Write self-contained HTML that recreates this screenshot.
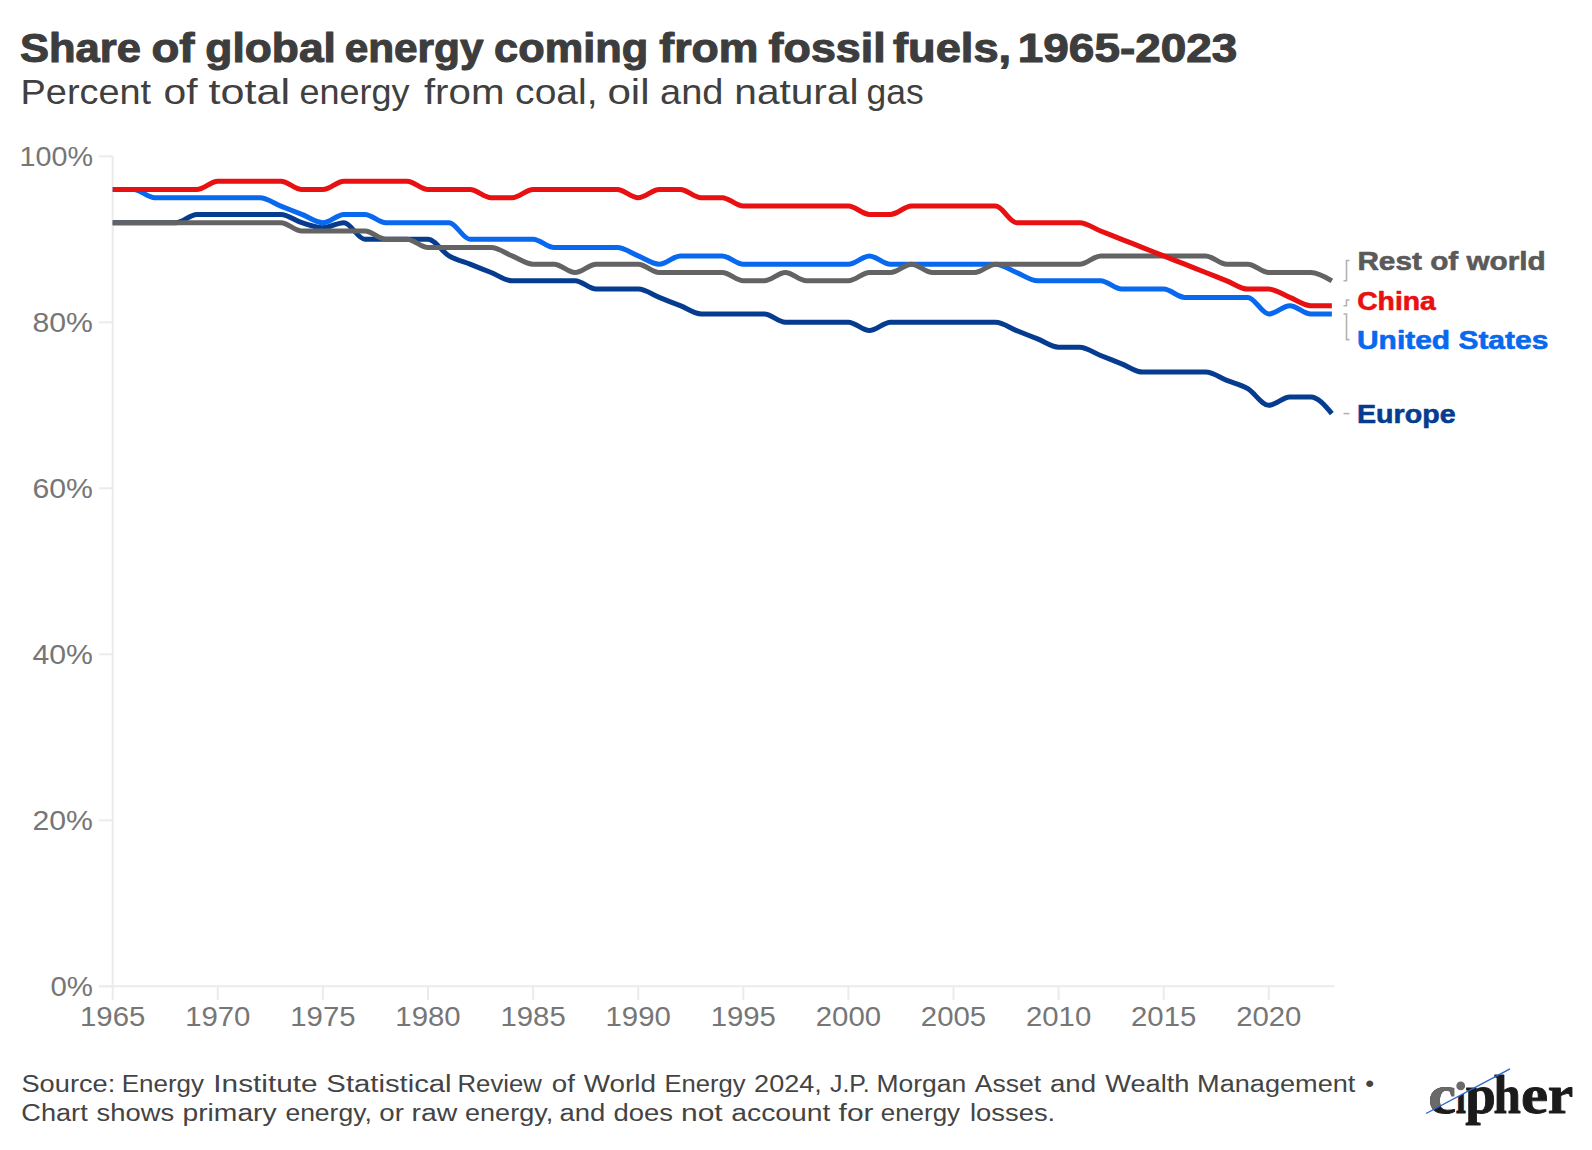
<!DOCTYPE html>
<html><head><meta charset="utf-8">
<style>
html,body{margin:0;padding:0;background:#fff;}
body{width:1592px;height:1150px;overflow:hidden;}
svg{display:block;}
text{font-family:"Liberation Sans",Arial,sans-serif;}
.t{font-weight:bold;font-size:41px;fill:#3d3d3d;stroke:#3d3d3d;stroke-width:1.1px;stroke-linejoin:round;}
.st{font-size:34.5px;fill:#404040;}
.yl{font-size:27.5px;fill:#767676;text-anchor:end;}
.xl{font-size:27.5px;fill:#767676;text-anchor:middle;}
.lab{font-size:26px;font-weight:bold;stroke-width:0.6px;stroke-linejoin:round;}
.ft{font-size:23.5px;fill:#444;}
.ln{fill:none;stroke-width:5.0px;stroke-linejoin:round;stroke-linecap:butt;}
.logo{font-family:"Liberation Serif",serif;font-weight:bold;font-size:55px;stroke-width:0.9px;stroke-linejoin:round;}
</style></head>
<body>
<svg width="1592" height="1150" viewBox="0 0 1592 1150">
<text class="t" x="20.05" y="62.0" textLength="120.84" lengthAdjust="spacingAndGlyphs">Share</text><text class="t" x="151.42" y="62.0" textLength="43.09" lengthAdjust="spacingAndGlyphs">of</text><text class="t" x="205.38" y="62.0" textLength="130.56" lengthAdjust="spacingAndGlyphs">global</text><text class="t" x="344.65" y="62.0" textLength="138.88" lengthAdjust="spacingAndGlyphs">energy</text><text class="t" x="494.11" y="62.0" textLength="154.09" lengthAdjust="spacingAndGlyphs">coming</text><text class="t" x="659.34" y="62.0" textLength="99.02" lengthAdjust="spacingAndGlyphs">from</text><text class="t" x="768.63" y="62.0" textLength="117.04" lengthAdjust="spacingAndGlyphs">fossil</text><text class="t" x="893.03" y="62.0" textLength="118.10" lengthAdjust="spacingAndGlyphs">fuels,</text><text class="t" x="1017.81" y="62.0" textLength="219.55" lengthAdjust="spacingAndGlyphs">1965-2023</text>
<text class="st" x="20.59" y="103.8" textLength="130.48" lengthAdjust="spacingAndGlyphs">Percent</text><text class="st" x="163.49" y="103.8" textLength="34.05" lengthAdjust="spacingAndGlyphs">of</text><text class="st" x="208.55" y="103.8" textLength="81.54" lengthAdjust="spacingAndGlyphs">total</text><text class="st" x="299.47" y="103.8" textLength="110.00" lengthAdjust="spacingAndGlyphs">energy</text><text class="st" x="423.93" y="103.8" textLength="80.52" lengthAdjust="spacingAndGlyphs">from</text><text class="st" x="515.14" y="103.8" textLength="82.47" lengthAdjust="spacingAndGlyphs">coal,</text><text class="st" x="607.43" y="103.8" textLength="42.19" lengthAdjust="spacingAndGlyphs">oil</text><text class="st" x="660.09" y="103.8" textLength="63.36" lengthAdjust="spacingAndGlyphs">and</text><text class="st" x="734.30" y="103.8" textLength="124.22" lengthAdjust="spacingAndGlyphs">natural</text><text class="st" x="866.51" y="103.8" textLength="57.17" lengthAdjust="spacingAndGlyphs">gas</text>
<line x1="112.7" y1="156.3" x2="112.7" y2="986.3" stroke="#ebebeb" stroke-width="2"/><line x1="99" y1="986.3" x2="112.7" y2="986.3" stroke="#ebebeb" stroke-width="2"/><line x1="99" y1="820.3" x2="112.7" y2="820.3" stroke="#ebebeb" stroke-width="2"/><line x1="99" y1="654.3" x2="112.7" y2="654.3" stroke="#ebebeb" stroke-width="2"/><line x1="99" y1="488.3" x2="112.7" y2="488.3" stroke="#ebebeb" stroke-width="2"/><line x1="99" y1="322.3" x2="112.7" y2="322.3" stroke="#ebebeb" stroke-width="2"/><line x1="99" y1="156.3" x2="112.7" y2="156.3" stroke="#ebebeb" stroke-width="2"/><line x1="99" y1="986.3" x2="1334.4" y2="986.3" stroke="#ebebeb" stroke-width="2"/><line x1="112.7" y1="986.3" x2="112.7" y2="1000" stroke="#ebebeb" stroke-width="2"/><line x1="217.8" y1="986.3" x2="217.8" y2="1000" stroke="#ebebeb" stroke-width="2"/><line x1="322.9" y1="986.3" x2="322.9" y2="1000" stroke="#ebebeb" stroke-width="2"/><line x1="428.0" y1="986.3" x2="428.0" y2="1000" stroke="#ebebeb" stroke-width="2"/><line x1="533.1" y1="986.3" x2="533.1" y2="1000" stroke="#ebebeb" stroke-width="2"/><line x1="638.2" y1="986.3" x2="638.2" y2="1000" stroke="#ebebeb" stroke-width="2"/><line x1="743.3" y1="986.3" x2="743.3" y2="1000" stroke="#ebebeb" stroke-width="2"/><line x1="848.4" y1="986.3" x2="848.4" y2="1000" stroke="#ebebeb" stroke-width="2"/><line x1="953.5" y1="986.3" x2="953.5" y2="1000" stroke="#ebebeb" stroke-width="2"/><line x1="1058.6" y1="986.3" x2="1058.6" y2="1000" stroke="#ebebeb" stroke-width="2"/><line x1="1163.7" y1="986.3" x2="1163.7" y2="1000" stroke="#ebebeb" stroke-width="2"/><line x1="1268.8" y1="986.3" x2="1268.8" y2="1000" stroke="#ebebeb" stroke-width="2"/>
<text class="yl" x="93" y="995.8" textLength="42.5" lengthAdjust="spacingAndGlyphs">0%</text><text class="yl" x="93" y="829.8" textLength="60.5" lengthAdjust="spacingAndGlyphs">20%</text><text class="yl" x="93" y="663.8" textLength="60.5" lengthAdjust="spacingAndGlyphs">40%</text><text class="yl" x="93" y="497.8" textLength="60.5" lengthAdjust="spacingAndGlyphs">60%</text><text class="yl" x="93" y="331.8" textLength="60.5" lengthAdjust="spacingAndGlyphs">80%</text><text class="yl" x="93" y="165.8" textLength="73.5" lengthAdjust="spacingAndGlyphs">100%</text>
<text class="xl" x="112.7" y="1026" textLength="65.3" lengthAdjust="spacingAndGlyphs">1965</text><text class="xl" x="217.8" y="1026" textLength="65.3" lengthAdjust="spacingAndGlyphs">1970</text><text class="xl" x="322.9" y="1026" textLength="65.3" lengthAdjust="spacingAndGlyphs">1975</text><text class="xl" x="428.0" y="1026" textLength="65.3" lengthAdjust="spacingAndGlyphs">1980</text><text class="xl" x="533.1" y="1026" textLength="65.3" lengthAdjust="spacingAndGlyphs">1985</text><text class="xl" x="638.2" y="1026" textLength="65.3" lengthAdjust="spacingAndGlyphs">1990</text><text class="xl" x="743.3" y="1026" textLength="65.3" lengthAdjust="spacingAndGlyphs">1995</text><text class="xl" x="848.4" y="1026" textLength="65.3" lengthAdjust="spacingAndGlyphs">2000</text><text class="xl" x="953.5" y="1026" textLength="65.3" lengthAdjust="spacingAndGlyphs">2005</text><text class="xl" x="1058.6" y="1026" textLength="65.3" lengthAdjust="spacingAndGlyphs">2010</text><text class="xl" x="1163.7" y="1026" textLength="65.3" lengthAdjust="spacingAndGlyphs">2015</text><text class="xl" x="1268.8" y="1026" textLength="65.3" lengthAdjust="spacingAndGlyphs">2020</text>
<path class="ln" stroke="#063c8f" d="M112.70,222.70C119.71,222.70,126.71,222.70,133.72,222.70C140.73,222.70,147.73,222.70,154.74,222.70C161.75,222.70,168.75,222.70,175.76,222.70C182.77,222.70,189.77,214.40,196.78,214.40C203.79,214.40,210.79,214.40,217.80,214.40C224.81,214.40,231.81,214.40,238.82,214.40C245.83,214.40,252.83,214.40,259.84,214.40C266.85,214.40,273.85,214.40,280.86,214.40C287.87,214.40,294.87,220.49,301.88,222.70C308.89,224.91,315.89,227.68,322.90,227.68C329.91,227.68,336.91,222.70,343.92,222.70C350.93,222.70,357.93,239.30,364.94,239.30C371.95,239.30,378.95,239.30,385.96,239.30C392.97,239.30,399.97,239.30,406.98,239.30C413.99,239.30,420.99,239.30,428.00,239.30C435.01,239.30,442.01,251.75,449.02,255.90C456.03,260.05,463.03,261.43,470.04,264.20C477.05,266.97,484.05,269.73,491.06,272.50C498.07,275.27,505.07,280.80,512.08,280.80C519.09,280.80,526.09,280.80,533.10,280.80C540.11,280.80,547.11,280.80,554.12,280.80C561.13,280.80,568.13,280.80,575.14,280.80C582.15,280.80,589.15,289.10,596.16,289.10C603.17,289.10,610.17,289.10,617.18,289.10C624.19,289.10,631.19,289.10,638.20,289.10C645.21,289.10,652.21,294.63,659.22,297.40C666.23,300.17,673.23,302.93,680.24,305.70C687.25,308.47,694.25,314.00,701.26,314.00C708.27,314.00,715.27,314.00,722.28,314.00C729.29,314.00,736.29,314.00,743.30,314.00C750.31,314.00,757.31,314.00,764.32,314.00C771.33,314.00,778.33,322.30,785.34,322.30C792.35,322.30,799.35,322.30,806.36,322.30C813.37,322.30,820.37,322.30,827.38,322.30C834.39,322.30,841.39,322.30,848.40,322.30C855.41,322.30,862.41,330.60,869.42,330.60C876.43,330.60,883.43,322.30,890.44,322.30C897.45,322.30,904.45,322.30,911.46,322.30C918.47,322.30,925.47,322.30,932.48,322.30C939.49,322.30,946.49,322.30,953.50,322.30C960.51,322.30,967.51,322.30,974.52,322.30C981.53,322.30,988.53,322.30,995.54,322.30C1002.55,322.30,1009.55,327.83,1016.56,330.60C1023.57,333.37,1030.57,336.13,1037.58,338.90C1044.59,341.67,1051.59,347.20,1058.60,347.20C1065.61,347.20,1072.61,347.20,1079.62,347.20C1086.63,347.20,1093.63,352.73,1100.64,355.50C1107.65,358.27,1114.65,361.03,1121.66,363.80C1128.67,366.57,1135.67,372.10,1142.68,372.10C1149.69,372.10,1156.69,372.10,1163.70,372.10C1170.71,372.10,1177.71,372.10,1184.72,372.10C1191.73,372.10,1198.73,372.10,1205.74,372.10C1212.75,372.10,1219.75,377.63,1226.76,380.40C1233.77,383.17,1240.77,384.55,1247.78,388.70C1254.79,392.85,1261.79,405.30,1268.80,405.30C1275.81,405.30,1282.81,397.00,1289.82,397.00C1296.83,397.00,1303.83,397.00,1310.84,397.00C1317.85,397.00,1324.85,405.30,1331.86,413.60"/><path class="ln" stroke="#0868ee" d="M112.70,189.50C119.71,189.50,126.71,189.50,133.72,189.50C140.73,189.50,147.73,197.80,154.74,197.80C161.75,197.80,168.75,197.80,175.76,197.80C182.77,197.80,189.77,197.80,196.78,197.80C203.79,197.80,210.79,197.80,217.80,197.80C224.81,197.80,231.81,197.80,238.82,197.80C245.83,197.80,252.83,197.80,259.84,197.80C266.85,197.80,273.85,203.33,280.86,206.10C287.87,208.87,294.87,211.63,301.88,214.40C308.89,217.17,315.89,222.70,322.90,222.70C329.91,222.70,336.91,214.40,343.92,214.40C350.93,214.40,357.93,214.40,364.94,214.40C371.95,214.40,378.95,222.70,385.96,222.70C392.97,222.70,399.97,222.70,406.98,222.70C413.99,222.70,420.99,222.70,428.00,222.70C435.01,222.70,442.01,222.70,449.02,222.70C456.03,222.70,463.03,239.30,470.04,239.30C477.05,239.30,484.05,239.30,491.06,239.30C498.07,239.30,505.07,239.30,512.08,239.30C519.09,239.30,526.09,239.30,533.10,239.30C540.11,239.30,547.11,247.60,554.12,247.60C561.13,247.60,568.13,247.60,575.14,247.60C582.15,247.60,589.15,247.60,596.16,247.60C603.17,247.60,610.17,247.60,617.18,247.60C624.19,247.60,631.19,253.13,638.20,255.90C645.21,258.67,652.21,264.20,659.22,264.20C666.23,264.20,673.23,255.90,680.24,255.90C687.25,255.90,694.25,255.90,701.26,255.90C708.27,255.90,715.27,255.90,722.28,255.90C729.29,255.90,736.29,264.20,743.30,264.20C750.31,264.20,757.31,264.20,764.32,264.20C771.33,264.20,778.33,264.20,785.34,264.20C792.35,264.20,799.35,264.20,806.36,264.20C813.37,264.20,820.37,264.20,827.38,264.20C834.39,264.20,841.39,264.20,848.40,264.20C855.41,264.20,862.41,255.90,869.42,255.90C876.43,255.90,883.43,264.20,890.44,264.20C897.45,264.20,904.45,264.20,911.46,264.20C918.47,264.20,925.47,264.20,932.48,264.20C939.49,264.20,946.49,264.20,953.50,264.20C960.51,264.20,967.51,264.20,974.52,264.20C981.53,264.20,988.53,264.20,995.54,264.20C1002.55,264.20,1009.55,269.73,1016.56,272.50C1023.57,275.27,1030.57,280.80,1037.58,280.80C1044.59,280.80,1051.59,280.80,1058.60,280.80C1065.61,280.80,1072.61,280.80,1079.62,280.80C1086.63,280.80,1093.63,280.80,1100.64,280.80C1107.65,280.80,1114.65,289.10,1121.66,289.10C1128.67,289.10,1135.67,289.10,1142.68,289.10C1149.69,289.10,1156.69,289.10,1163.70,289.10C1170.71,289.10,1177.71,297.40,1184.72,297.40C1191.73,297.40,1198.73,297.40,1205.74,297.40C1212.75,297.40,1219.75,297.40,1226.76,297.40C1233.77,297.40,1240.77,297.40,1247.78,297.40C1254.79,297.40,1261.79,314.00,1268.80,314.00C1275.81,314.00,1282.81,305.70,1289.82,305.70C1296.83,305.70,1303.83,314.00,1310.84,314.00C1317.85,314.00,1324.85,314.00,1331.86,314.00"/><path class="ln" stroke="#636363" d="M112.70,222.70C119.71,222.70,126.71,222.70,133.72,222.70C140.73,222.70,147.73,222.70,154.74,222.70C161.75,222.70,168.75,222.70,175.76,222.70C182.77,222.70,189.77,222.70,196.78,222.70C203.79,222.70,210.79,222.70,217.80,222.70C224.81,222.70,231.81,222.70,238.82,222.70C245.83,222.70,252.83,222.70,259.84,222.70C266.85,222.70,273.85,222.70,280.86,222.70C287.87,222.70,294.87,231.00,301.88,231.00C308.89,231.00,315.89,231.00,322.90,231.00C329.91,231.00,336.91,231.00,343.92,231.00C350.93,231.00,357.93,231.00,364.94,231.00C371.95,231.00,378.95,239.30,385.96,239.30C392.97,239.30,399.97,239.30,406.98,239.30C413.99,239.30,420.99,247.60,428.00,247.60C435.01,247.60,442.01,247.60,449.02,247.60C456.03,247.60,463.03,247.60,470.04,247.60C477.05,247.60,484.05,247.60,491.06,247.60C498.07,247.60,505.07,253.13,512.08,255.90C519.09,258.67,526.09,264.20,533.10,264.20C540.11,264.20,547.11,264.20,554.12,264.20C561.13,264.20,568.13,272.50,575.14,272.50C582.15,272.50,589.15,264.20,596.16,264.20C603.17,264.20,610.17,264.20,617.18,264.20C624.19,264.20,631.19,264.20,638.20,264.20C645.21,264.20,652.21,272.50,659.22,272.50C666.23,272.50,673.23,272.50,680.24,272.50C687.25,272.50,694.25,272.50,701.26,272.50C708.27,272.50,715.27,272.50,722.28,272.50C729.29,272.50,736.29,280.80,743.30,280.80C750.31,280.80,757.31,280.80,764.32,280.80C771.33,280.80,778.33,272.50,785.34,272.50C792.35,272.50,799.35,280.80,806.36,280.80C813.37,280.80,820.37,280.80,827.38,280.80C834.39,280.80,841.39,280.80,848.40,280.80C855.41,280.80,862.41,272.50,869.42,272.50C876.43,272.50,883.43,272.50,890.44,272.50C897.45,272.50,904.45,264.20,911.46,264.20C918.47,264.20,925.47,272.50,932.48,272.50C939.49,272.50,946.49,272.50,953.50,272.50C960.51,272.50,967.51,272.50,974.52,272.50C981.53,272.50,988.53,264.20,995.54,264.20C1002.55,264.20,1009.55,264.20,1016.56,264.20C1023.57,264.20,1030.57,264.20,1037.58,264.20C1044.59,264.20,1051.59,264.20,1058.60,264.20C1065.61,264.20,1072.61,264.20,1079.62,264.20C1086.63,264.20,1093.63,255.90,1100.64,255.90C1107.65,255.90,1114.65,255.90,1121.66,255.90C1128.67,255.90,1135.67,255.90,1142.68,255.90C1149.69,255.90,1156.69,255.90,1163.70,255.90C1170.71,255.90,1177.71,255.90,1184.72,255.90C1191.73,255.90,1198.73,255.90,1205.74,255.90C1212.75,255.90,1219.75,264.20,1226.76,264.20C1233.77,264.20,1240.77,264.20,1247.78,264.20C1254.79,264.20,1261.79,272.50,1268.80,272.50C1275.81,272.50,1282.81,272.50,1289.82,272.50C1296.83,272.50,1303.83,272.50,1310.84,272.50C1317.85,272.50,1324.85,276.65,1331.86,280.80"/><path class="ln" stroke="#e81010" d="M112.70,189.50C119.71,189.50,126.71,189.50,133.72,189.50C140.73,189.50,147.73,189.50,154.74,189.50C161.75,189.50,168.75,189.50,175.76,189.50C182.77,189.50,189.77,189.50,196.78,189.50C203.79,189.50,210.79,181.20,217.80,181.20C224.81,181.20,231.81,181.20,238.82,181.20C245.83,181.20,252.83,181.20,259.84,181.20C266.85,181.20,273.85,181.20,280.86,181.20C287.87,181.20,294.87,189.50,301.88,189.50C308.89,189.50,315.89,189.50,322.90,189.50C329.91,189.50,336.91,181.20,343.92,181.20C350.93,181.20,357.93,181.20,364.94,181.20C371.95,181.20,378.95,181.20,385.96,181.20C392.97,181.20,399.97,181.20,406.98,181.20C413.99,181.20,420.99,189.50,428.00,189.50C435.01,189.50,442.01,189.50,449.02,189.50C456.03,189.50,463.03,189.50,470.04,189.50C477.05,189.50,484.05,197.80,491.06,197.80C498.07,197.80,505.07,197.80,512.08,197.80C519.09,197.80,526.09,189.50,533.10,189.50C540.11,189.50,547.11,189.50,554.12,189.50C561.13,189.50,568.13,189.50,575.14,189.50C582.15,189.50,589.15,189.50,596.16,189.50C603.17,189.50,610.17,189.50,617.18,189.50C624.19,189.50,631.19,197.80,638.20,197.80C645.21,197.80,652.21,189.50,659.22,189.50C666.23,189.50,673.23,189.50,680.24,189.50C687.25,189.50,694.25,197.80,701.26,197.80C708.27,197.80,715.27,197.80,722.28,197.80C729.29,197.80,736.29,206.10,743.30,206.10C750.31,206.10,757.31,206.10,764.32,206.10C771.33,206.10,778.33,206.10,785.34,206.10C792.35,206.10,799.35,206.10,806.36,206.10C813.37,206.10,820.37,206.10,827.38,206.10C834.39,206.10,841.39,206.10,848.40,206.10C855.41,206.10,862.41,214.40,869.42,214.40C876.43,214.40,883.43,214.40,890.44,214.40C897.45,214.40,904.45,206.10,911.46,206.10C918.47,206.10,925.47,206.10,932.48,206.10C939.49,206.10,946.49,206.10,953.50,206.10C960.51,206.10,967.51,206.10,974.52,206.10C981.53,206.10,988.53,206.10,995.54,206.10C1002.55,206.10,1009.55,222.70,1016.56,222.70C1023.57,222.70,1030.57,222.70,1037.58,222.70C1044.59,222.70,1051.59,222.70,1058.60,222.70C1065.61,222.70,1072.61,222.70,1079.62,222.70C1086.63,222.70,1093.63,228.23,1100.64,231.00C1107.65,233.77,1114.65,236.53,1121.66,239.30C1128.67,242.07,1135.67,244.83,1142.68,247.60C1149.69,250.37,1156.69,253.13,1163.70,255.90C1170.71,258.67,1177.71,261.43,1184.72,264.20C1191.73,266.97,1198.73,269.73,1205.74,272.50C1212.75,275.27,1219.75,278.03,1226.76,280.80C1233.77,283.57,1240.77,289.10,1247.78,289.10C1254.79,289.10,1261.79,289.10,1268.80,289.10C1275.81,289.10,1282.81,294.63,1289.82,297.40C1296.83,300.17,1303.83,305.70,1310.84,305.70C1317.85,305.70,1324.85,305.70,1331.86,305.70"/>
<path d="M1343.5,280.8 H1346.5 V260.5 H1349.5" fill="none" stroke="#b3b3b3" stroke-width="1.6"/><path d="M1343.5,305.7 H1346.5 V300 H1349.5" fill="none" stroke="#b3b3b3" stroke-width="1.6"/><path d="M1343.5,314.0 H1346.5 V339.6 H1349.5" fill="none" stroke="#b3b3b3" stroke-width="1.6"/><path d="M1343.5,413.6 H1349.5" fill="none" stroke="#b3b3b3" stroke-width="1.6"/>
<text class="lab" x="1357.4" y="269.6" fill="#5a5a5a" stroke="#5a5a5a" textLength="188.4" lengthAdjust="spacingAndGlyphs">Rest of world</text><text class="lab" x="1357.2" y="309.7" fill="#e81010" stroke="#e81010" textLength="78.6" lengthAdjust="spacingAndGlyphs">China</text><text class="lab" x="1357.0" y="348.5" fill="#0868ee" stroke="#0868ee" textLength="191.3" lengthAdjust="spacingAndGlyphs">United States</text><text class="lab" x="1357.0" y="422.9" fill="#063c8f" stroke="#063c8f" textLength="98.6" lengthAdjust="spacingAndGlyphs">Europe</text>
<text class="ft" x="21.46" y="1092.2" textLength="93.82" lengthAdjust="spacingAndGlyphs">Source:</text><text class="ft" x="121.67" y="1092.2" textLength="82.38" lengthAdjust="spacingAndGlyphs">Energy</text><text class="ft" x="213.35" y="1092.2" textLength="104.17" lengthAdjust="spacingAndGlyphs">Institute</text><text class="ft" x="326.37" y="1092.2" textLength="125.29" lengthAdjust="spacingAndGlyphs">Statistical</text><text class="ft" x="457.49" y="1092.2" textLength="84.45" lengthAdjust="spacingAndGlyphs">Review</text><text class="ft" x="551.84" y="1092.2" textLength="23.12" lengthAdjust="spacingAndGlyphs">of</text><text class="ft" x="583.68" y="1092.2" textLength="72.20" lengthAdjust="spacingAndGlyphs">World</text><text class="ft" x="664.40" y="1092.2" textLength="81.25" lengthAdjust="spacingAndGlyphs">Energy</text><text class="ft" x="754.14" y="1092.2" textLength="67.58" lengthAdjust="spacingAndGlyphs">2024,</text><text class="ft" x="829.94" y="1092.2" textLength="39.77" lengthAdjust="spacingAndGlyphs">J.P.</text><text class="ft" x="876.43" y="1092.2" textLength="89.69" lengthAdjust="spacingAndGlyphs">Morgan</text><text class="ft" x="974.85" y="1092.2" textLength="66.25" lengthAdjust="spacingAndGlyphs">Asset</text><text class="ft" x="1049.92" y="1092.2" textLength="46.16" lengthAdjust="spacingAndGlyphs">and</text><text class="ft" x="1105.18" y="1092.2" textLength="84.28" lengthAdjust="spacingAndGlyphs">Wealth</text><text class="ft" x="1197.07" y="1092.2" textLength="158.32" lengthAdjust="spacingAndGlyphs">Management</text><text class="ft" x="1365.29" y="1092.2" textLength="8.91" lengthAdjust="spacingAndGlyphs">•</text>
<text class="ft" x="21.32" y="1121.3" textLength="66.38" lengthAdjust="spacingAndGlyphs">Chart</text><text class="ft" x="96.64" y="1121.3" textLength="77.65" lengthAdjust="spacingAndGlyphs">shows</text><text class="ft" x="182.48" y="1121.3" textLength="94.18" lengthAdjust="spacingAndGlyphs">primary</text><text class="ft" x="285.40" y="1121.3" textLength="86.43" lengthAdjust="spacingAndGlyphs">energy,</text><text class="ft" x="379.34" y="1121.3" textLength="24.62" lengthAdjust="spacingAndGlyphs">or</text><text class="ft" x="411.51" y="1121.3" textLength="45.82" lengthAdjust="spacingAndGlyphs">raw</text><text class="ft" x="465.08" y="1121.3" textLength="88.09" lengthAdjust="spacingAndGlyphs">energy,</text><text class="ft" x="559.53" y="1121.3" textLength="45.84" lengthAdjust="spacingAndGlyphs">and</text><text class="ft" x="613.45" y="1121.3" textLength="59.55" lengthAdjust="spacingAndGlyphs">does</text><text class="ft" x="681.01" y="1121.3" textLength="41.71" lengthAdjust="spacingAndGlyphs">not</text><text class="ft" x="731.20" y="1121.3" textLength="99.31" lengthAdjust="spacingAndGlyphs">account</text><text class="ft" x="838.58" y="1121.3" textLength="35.02" lengthAdjust="spacingAndGlyphs">for</text><text class="ft" x="880.80" y="1121.3" textLength="79.25" lengthAdjust="spacingAndGlyphs">energy</text><text class="ft" x="969.95" y="1121.3" textLength="85.25" lengthAdjust="spacingAndGlyphs">losses.</text>
<defs>
<clipPath id="upper"><polygon points="1400,1030 1560,1030 1560,1042.2 1426.1,1113.5 1400,1127.4"/></clipPath>
<clipPath id="nodot"><path clip-rule="evenodd" d="M1400,1040H1600V1140H1400Z M1454.5,1060H1466.2V1092.4L1454.5,1098.6Z"/></clipPath>
</defs>
<g>
<g clip-path="url(#nodot)">
<text class="logo" y="1112.8" fill="#1b1b1b" stroke="#1b1b1b"><tspan x="1428.58" textLength="27.57" lengthAdjust="spacingAndGlyphs">c</tspan><tspan x="1455.80" textLength="10.14" lengthAdjust="spacingAndGlyphs">i</tspan><tspan x="1465.30" textLength="30.63" lengthAdjust="spacingAndGlyphs">p</tspan><tspan x="1493.57" textLength="27.37" lengthAdjust="spacingAndGlyphs">h</tspan><tspan x="1521.12" textLength="27.06" lengthAdjust="spacingAndGlyphs">e</tspan><tspan x="1547.66" textLength="25.47" lengthAdjust="spacingAndGlyphs">r</tspan></text>
<text class="logo" y="1112.8" fill="#6a6a6a" stroke="#6a6a6a" clip-path="url(#upper)"><tspan x="1428.58" textLength="27.57" lengthAdjust="spacingAndGlyphs">c</tspan><tspan x="1455.80" textLength="10.14" lengthAdjust="spacingAndGlyphs">i</tspan></text>
</g>
<circle cx="1460.7" cy="1085.9" r="4.4" fill="#6a6a6a"/>
<line x1="1426.1" y1="1113.5" x2="1510" y2="1068.8" stroke="#2a66c8" stroke-width="1.4"/>
</g>
</svg>
</body></html>
